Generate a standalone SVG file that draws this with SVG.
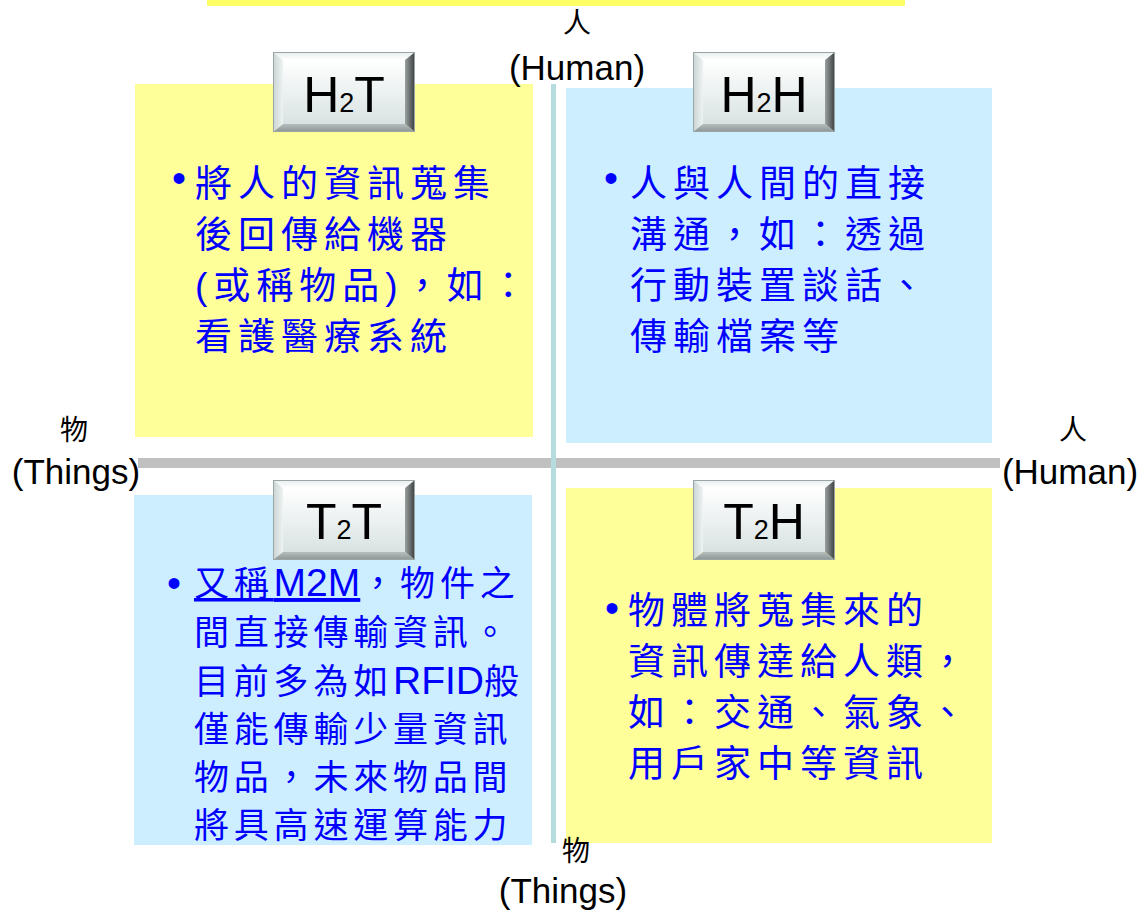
<svg xmlns="http://www.w3.org/2000/svg" xmlns:xlink="http://www.w3.org/1999/xlink" width="1146" height="912" viewBox="0 0 1146 912">
<defs>
<style>
.qy{fill:#ffff99}
.qb{fill:#cceeff}
.body{font-family:'Liberation Sans','Noto Sans CJK TC',sans-serif;font-size:37px;fill:#0000ff;letter-spacing:6px}
.body2{font-family:'Liberation Sans','Noto Sans CJK TC',sans-serif;font-size:35px;fill:#0000ff;letter-spacing:4.8px}
.lat{font-size:39px;letter-spacing:0px}
.bul{font-family:'Liberation Sans',sans-serif;font-size:40px;fill:#0000ff}
.ax{font-family:'Liberation Sans',sans-serif;font-size:35px;fill:#000}
.axc{font-family:'Noto Sans CJK TC',sans-serif;font-size:28px;fill:#000}
.ttl{font-family:'Liberation Sans',sans-serif;font-size:50px;fill:#000}
</style>
<linearGradient id="gFace" x1="0" y1="0" x2="0" y2="1">
<stop offset="0" stop-color="#ffffff"/><stop offset="1" stop-color="#d9e2e2"/>
</linearGradient>
<linearGradient id="gLeft" x1="0" y1="0" x2="1" y2="0">
<stop offset="0" stop-color="#c9d2d2"/><stop offset="1" stop-color="#eef3f3"/>
</linearGradient>
<linearGradient id="gRight" x1="0" y1="0" x2="1" y2="0">
<stop offset="0" stop-color="#9aa0a0"/><stop offset="1" stop-color="#3a3d3d"/>
</linearGradient>
<linearGradient id="gTop" x1="0" y1="0" x2="0" y2="1">
<stop offset="0" stop-color="#e6eded"/><stop offset="1" stop-color="#ffffff"/>
</linearGradient>
<linearGradient id="gBot" x1="0" y1="0" x2="0" y2="1">
<stop offset="0" stop-color="#b5bdbd"/><stop offset="1" stop-color="#8c9494"/>
</linearGradient>
<g id="btn">
<polygon points="0,0 142,0 132,8 10,8" fill="url(#gTop)"/>
<polygon points="0,0 10,8 10,72 0,80" fill="url(#gLeft)"/>
<polygon points="142,0 142,80 132,72 132,8" fill="url(#gRight)"/>
<polygon points="0,80 10,72 132,72 142,80" fill="url(#gBot)"/>
<rect x="10" y="8" width="122" height="64" fill="url(#gFace)"/>
<rect x="0.5" y="0.5" width="141" height="79" fill="none" stroke="#9aa6a6" stroke-width="1"/>
</g>
</defs>

<rect x="0" y="0" width="1146" height="912" fill="#ffffff"/>
<rect id="topbar" x="207" y="0" width="698" height="6" fill="#ffff66"/>

<g id="H2T">
<rect class="qy" x="135" y="84" width="398" height="353"/>
<use xlink:href="#btn" x="273" y="52"/>
<text class="ttl" x="344" y="112" text-anchor="middle">H<tspan font-size="27">2</tspan>T</text>
<text class="bul" x="172" y="192">•</text>
<text class="body" x="195" y="197">將人的資訊蒐集</text>
<text class="body" x="195" y="248">後回傳給機器</text>
<text class="body" x="195" y="299">(或稱物品)，如：</text>
<text class="body" x="195" y="350">看護醫療系統</text>
</g>

<g id="H2H">
<rect class="qb" x="566" y="88" width="426" height="355"/>
<use xlink:href="#btn" x="693" y="52"/>
<text class="ttl" x="764" y="112" text-anchor="middle">H<tspan font-size="27">2</tspan>H</text>
<text class="bul" x="604" y="192">•</text>
<text class="body" x="630" y="197">人與人間的直接</text>
<text class="body" x="630" y="248">溝通，如：透過</text>
<text class="body" x="630" y="299">行動裝置談話、</text>
<text class="body" x="630" y="350">傳輸檔案等</text>
</g>

<g id="T2T">
<rect class="qb" x="134" y="495" width="398" height="350"/>
<use xlink:href="#btn" x="273" y="480"/>
<text class="ttl" x="344" y="539" text-anchor="middle">T<tspan font-size="27">2</tspan>T</text>
<text class="bul" x="167" y="597">•</text>
<text class="body2" x="194" y="596"><tspan text-decoration="underline">又稱<tspan class="lat">M2M</tspan></tspan>，物件之</text>
<text class="body2" x="194" y="645">間直接傳輸資訊。</text>
<text class="body2" x="194" y="694">目前多為如<tspan class="lat">RFID</tspan>般</text>
<text class="body2" x="194" y="742">僅能傳輸少量資訊</text>
<text class="body2" x="194" y="790">物品，未來物品間</text>
<text class="body2" x="194" y="838">將具高速運算能力</text>
</g>

<g id="T2H">
<rect class="qy" x="566" y="488" width="426" height="355"/>
<use xlink:href="#btn" x="693" y="480"/>
<text class="ttl" x="764" y="539" text-anchor="middle">T<tspan font-size="27">2</tspan>H</text>
<text class="bul" x="605" y="622">•</text>
<text class="body" x="628" y="624">物體將蒐集來的</text>
<text class="body" x="628" y="675">資訊傳達給人類，</text>
<text class="body" x="628" y="726">如：交通、氣象、</text>
<text class="body" x="628" y="777">用戶家中等資訊</text>
</g>

<g id="connectors">
<rect x="138" y="458" width="862" height="10" fill="#c0c0c0"/>
<rect x="551" y="84" width="5" height="759" fill="#b5dde0"/>
</g>

<g id="axis-labels">
<text class="axc" x="577" y="33" text-anchor="middle">人</text>
<text class="ax" x="577" y="80" text-anchor="middle">(Human)</text>
<text class="axc" x="74" y="440" text-anchor="middle">物</text>
<text class="ax" x="76" y="484" text-anchor="middle">(Things)</text>
<text class="axc" x="1073" y="440" text-anchor="middle">人</text>
<text class="ax" x="1070" y="484" text-anchor="middle">(Human)</text>
<text class="axc" x="576" y="861" text-anchor="middle">物</text>
<text class="ax" x="563" y="903" text-anchor="middle">(Things)</text>
</g>
</svg>
